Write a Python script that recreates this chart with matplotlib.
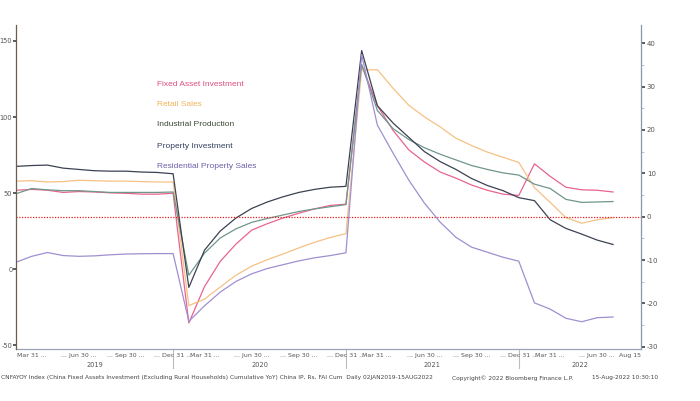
import matplotlib
matplotlib.use("Agg")
import matplotlib.pyplot as plt
import numpy as np

plt.rcParams["axes.unicode_minus"] = False

# ---- data (monthly cumulative YoY, Jan-Feb 2019 .. Jul 2022) ----
fai = [6.1, 6.3, 6.1, 5.6, 5.8, 5.7, 5.5, 5.4, 5.2, 5.2, 5.4,
       -24.5, -16.1, -10.3, -6.3, -3.1, -1.6, -0.3, 0.8, 1.8, 2.6, 2.9,
       35.0, 25.6, 19.9, 15.4, 12.6, 10.3, 8.9, 7.3, 6.1, 5.2, 4.9,
       12.2, 9.3, 6.8, 6.2, 6.1, 5.7]
retail = [8.2, 8.3, 8.0, 8.1, 8.4, 8.3, 8.2, 8.2, 8.1, 8.0, 8.0,
          -20.5, -19.0, -16.2, -13.5, -11.4, -9.9, -8.6, -7.2, -5.9, -4.8, -3.9,
          33.8, 33.9, 29.6, 25.7, 23.0, 20.7, 18.1, 16.4, 14.9, 13.7, 12.5,
          6.7, 3.3, -0.2, -1.5, -0.7, -0.2]
ip = [5.3, 6.5, 6.2, 6.0, 6.0, 5.8, 5.6, 5.6, 5.6, 5.6, 5.7,
      -13.5, -8.4, -4.9, -2.8, -1.3, -0.4, 0.4, 1.2, 1.8, 2.3, 2.8,
      35.1, 24.5, 20.3, 17.8, 15.9, 14.4, 13.1, 11.8, 10.9, 10.1, 9.6,
      7.5, 6.5, 4.0, 3.3, 3.4, 3.5]
prop_inv = [11.6, 11.8, 11.9, 11.2, 10.9, 10.6, 10.5, 10.5, 10.3, 10.2, 9.9,
            -16.3, -7.7, -3.3, -0.3, 1.9, 3.4, 4.6, 5.6, 6.3, 6.8, 7.0,
            38.3, 25.6, 21.6, 18.3, 15.0, 12.7, 10.9, 8.8, 7.2, 6.0, 4.4,
            3.7, -0.7, -2.7, -4.0, -5.4, -6.4]
res_sales = [4.6, 8.5, 11.0, 9.0, 8.5, 8.8, 9.5, 10.0, 10.2, 10.3, 10.3,
             -34.2, -24.0, -15.0, -8.0, -3.0, 0.5, 3.0, 5.5, 7.5, 9.0, 10.8,
             141.0, 94.7, 76.3, 58.6, 43.4, 30.9, 21.0, 14.5, 11.2, 7.9, 5.3,
             -22.1, -26.2, -32.2, -34.5, -31.8, -31.4]

tick_pos = [1, 4, 7, 10, 12, 15, 18, 21, 23, 26, 29, 32, 34, 37, 39.1]
tick_labels = ["Mar 31 ...", "... Jun 30 ...", "... Sep 30 ...", "... Dec 31 ...",
               "Mar 31 ...", "... Jun 30 ...", "... Sep 30 ...", "... Dec 31 ...",
               "Mar 31 ...", "... Jun 30 ...", "... Sep 30 ...", "... Dec 31 ...",
               "Mar 31 ...", "... Jun 30 ...", "Aug 15"]
years = ["2019", "2020", "2021", "2022"]
year_breaks = [10, 21, 32]

series_names = ["Fixed Asset Investment", "Retail Sales", "Industrial Production",
                "Property Investment", "Residential Property Sales"]
line_colors = ["#e8648e", "#f6c184", "#6f968c", "#3c4252", "#a08fd0"]
text_colors = ["#e0507f", "#f2b35a", "#3b4a30", "#34405e", "#6f5fa8"]

W, H = 700, 401
fig = plt.figure(figsize=(7.0, 4.01), dpi=100)
L, R, T, B = 16, 641, 25, 349
axr = fig.add_axes([L / W, 1 - B / H, (R - L) / W, (B - T) / H])
axl = axr.twinx()
axl.yaxis.tick_left()
axl.yaxis.set_label_position("left")
axr.yaxis.tick_right()

x = np.arange(len(fai))
xmax = 39.78
for ax in (axr, axl):
    ax.set_xlim(0, xmax)
    ax.set_facecolor("none")
axr.set_ylim(-30.5, 44.2)
axl.set_ylim(-52.4, 160.5)

lw = 0.9
axr.plot(x, fai, color=line_colors[0], lw=lw)
axr.plot(x, retail, color=line_colors[1], lw=lw)
axr.plot(x, ip, color=line_colors[2], lw=lw)
axr.plot(x, prop_inv, color=line_colors[3], lw=lw)
axl.plot(x, res_sales, color=line_colors[4], lw=lw)
axr.axhline(0, color="#e02020", lw=0.9, ls=(0, (1, 1.2)))

for ax in (axr, axl):
    ax.spines["top"].set_visible(False)
axl.spines["right"].set_visible(False)
axr.spines["left"].set_visible(False)
axl.spines["bottom"].set_visible(False)
axl.spines["left"].set_color("#6b5d4f")
axr.spines["right"].set_color("#8a97aa")
axr.spines["bottom"].set_color("#9aa4b4")
for s in ("left", "right", "bottom"):
    axr.spines[s].set_linewidth(0.9)
    axl.spines[s].set_linewidth(0.9)

axr.set_yticks(np.arange(-30, 41, 10))
axr.set_yticks(np.arange(-25, 41, 10), minor=True)
axr.tick_params(axis="y", which="major", length=3, width=1.2, color="#404040",
                labelsize=5.0, labelcolor="#555555", pad=1.2, direction="out")
axr.tick_params(axis="y", which="minor", length=2, width=0.6, color="#b0b8c4", direction="out")
axl.set_yticks(np.arange(-50, 151, 50))
axl.tick_params(axis="y", which="major", length=2, width=1.2, color="#404040",
                labelsize=4.8, labelcolor="#555555", pad=0.6, direction="out")

axr.set_xticks([2, 5, 8, 11, 14, 17, 20, 23, 26, 29, 32, 35, 38])
axr.set_xticklabels([])
axr.tick_params(axis="x", which="major", length=2, width=0.8, color="#8090a0", direction="in")
axl.tick_params(axis="x", which="both", length=0)
axl.set_xticks([])

trans = axr.get_xaxis_transform()
for p, lab in zip(tick_pos, tick_labels):
    axr.text(p, -0.012, lab, transform=trans, ha="center", va="top",
             fontsize=4.5, color="#555555", clip_on=False)
spans = [-1] + year_breaks + [xmax]
for i, yr in enumerate(years):
    c = (spans[i] + spans[i + 1]) / 2 if i > 0 else 5
    axr.text(c, -0.04, yr, transform=trans, ha="center", va="top",
             fontsize=4.8, color="#555555", clip_on=False)
for b in year_breaks:
    axr.plot([b, b], [0, -0.06], transform=trans, color="#b8bec8", lw=0.8, clip_on=False)

ys = [84, 104, 124, 147, 166]
for name, col, yy in zip(series_names, text_colors, ys):
    fig.text(157 / W, 1 - yy / H, name, color=col, fontsize=6.0,
             family="Liberation Sans", ha="left", va="center")

fy = 1 - 378 / H
fig.text(1 / W, fy, "CNFAYOY Index (China Fixed Assets Investment (Excluding Rural Households) Cumulative YoY) China IP, Rs, FAI Cum  Daily 02JAN2019-15AUG2022",
         fontsize=4.2, color="#444444", ha="left", va="center")
fig.text(452 / W, fy, "Copyright\u00a9 2022 Bloomberg Finance L.P.", fontsize=4.2,
         color="#444444", ha="left", va="center")
fig.text(592 / W, fy, "15-Aug-2022 10:30:10", fontsize=4.2, color="#444444",
         ha="left", va="center")

fig.savefig("out.png", dpi=100, facecolor="white")
